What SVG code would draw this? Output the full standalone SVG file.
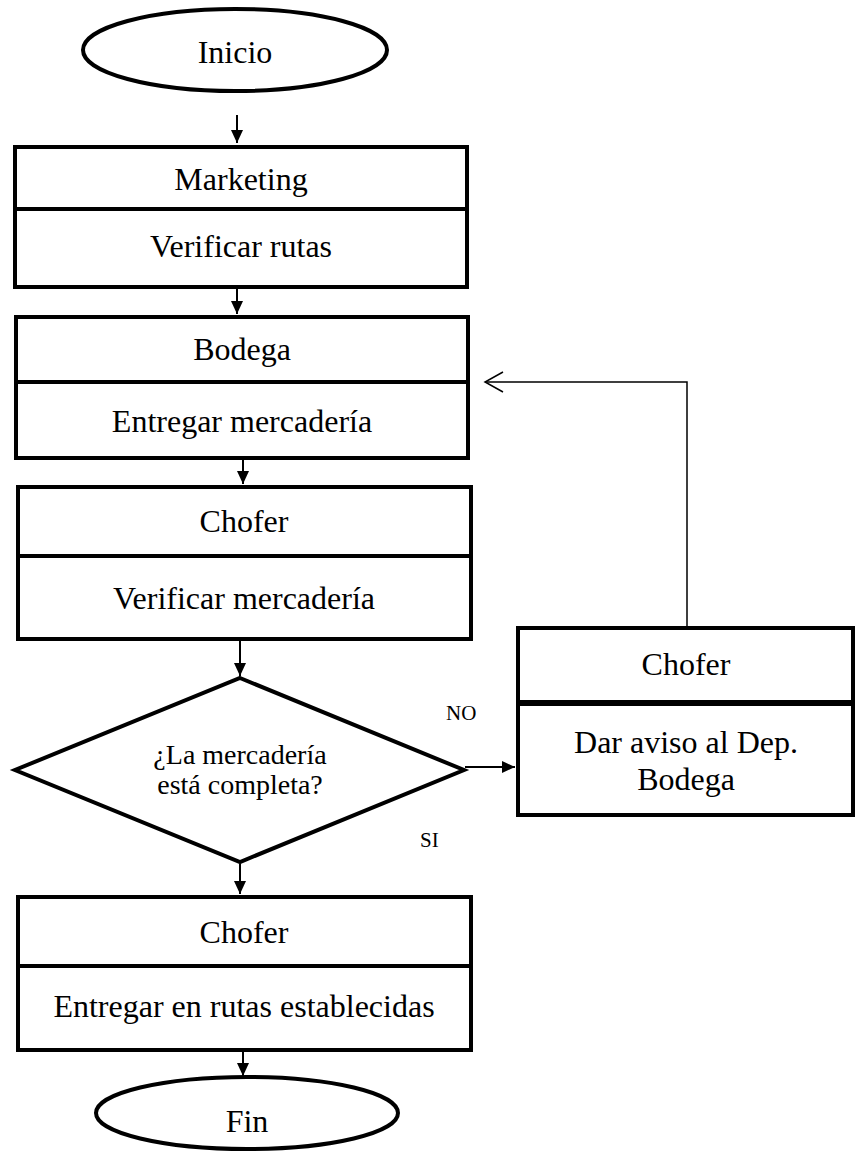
<svg xmlns="http://www.w3.org/2000/svg" width="856" height="1156" viewBox="0 0 856 1156">
  <defs>
    <style>
      .shape { fill: #ffffff; stroke: #000000; stroke-width: 4; stroke-linejoin: miter; }
      .term { fill: #ffffff; stroke: #000000; stroke-width: 4; }
      .conn { fill: none; stroke: #000000; stroke-width: 2; }
      .thin { fill: none; stroke: #000000; stroke-width: 1.5; }
      .t { font-family: "Liberation Serif", "Times New Roman", serif; font-size: 32px; fill: #000000; text-anchor: middle; }
      .q { font-family: "Liberation Serif", "Times New Roman", serif; font-size: 28px; fill: #000000; text-anchor: middle; }
      .lbl { font-family: "Liberation Serif", "Times New Roman", serif; font-size: 21px; fill: #000000; }
    </style>
    <marker id="arrow" markerUnits="userSpaceOnUse" markerWidth="13" markerHeight="13" refX="13" refY="6.5" orient="auto">
      <path d="M0,0.5 L13,6.5 L0,12.5 z" fill="#000000"/>
    </marker>
  </defs>

  <g id="connectors">
    <line class="conn" x1="237" y1="115" x2="237" y2="143" marker-end="url(#arrow)"/>
    <line class="conn" x1="237" y1="289" x2="237" y2="314" marker-end="url(#arrow)"/>
    <line class="conn" x1="243" y1="460" x2="243" y2="484" marker-end="url(#arrow)"/>
    <line class="conn" x1="240" y1="641" x2="240" y2="676" marker-end="url(#arrow)"/>
    <line class="conn" x1="465" y1="767" x2="515" y2="767" marker-end="url(#arrow)"/>
    <line class="conn" x1="240" y1="864" x2="240" y2="894" marker-end="url(#arrow)"/>
    <line class="conn" x1="243" y1="1052" x2="243" y2="1076" marker-end="url(#arrow)"/>
    <polyline class="thin" points="687,626 687,382 485,382"/>
    <polyline class="thin" points="503,372 485,382 503,392"/>
  </g>

  <g id="inicio">
    <ellipse class="term" cx="235" cy="50" rx="152" ry="41"/>
    <text class="t" x="235" y="63">Inicio</text>
  </g>

  <g id="marketing">
    <rect class="shape" x="15" y="147" width="452" height="62"/>
    <rect class="shape" x="15" y="209" width="452" height="78"/>
    <text class="t" x="241" y="190">Marketing</text>
    <text class="t" x="241" y="257">Verificar rutas</text>
  </g>

  <g id="bodega">
    <rect class="shape" x="16" y="317" width="452" height="65"/>
    <rect class="shape" x="16" y="382" width="452" height="76"/>
    <text class="t" x="242" y="360">Bodega</text>
    <text class="t" x="242" y="432">Entregar mercadería</text>
  </g>

  <g id="chofer1">
    <rect class="shape" x="18" y="487" width="453" height="69"/>
    <rect class="shape" x="18" y="556" width="453" height="83"/>
    <text class="t" x="244" y="532">Chofer</text>
    <text class="t" x="244" y="609">Verificar mercadería</text>
  </g>

  <g id="decision">
    <polygon class="shape" points="240,678 464,770 240,862 15,770"/>
    <text class="q" x="240" y="764">¿La mercadería</text>
    <text class="q" x="240" y="794">está completa?</text>
  </g>

  <g id="labels">
    <text class="lbl" x="446" y="720">NO</text>
    <text class="lbl" x="420" y="847">SI</text>
  </g>

  <g id="chofer-aviso">
    <rect class="shape" x="518" y="628" width="335" height="74"/>
    <rect class="shape" x="518" y="704" width="335" height="111"/>
    <text class="t" x="686" y="675">Chofer</text>
    <text class="t" x="686" y="753">Dar aviso al Dep.</text>
    <text class="t" x="686" y="790">Bodega</text>
  </g>

  <g id="chofer2">
    <rect class="shape" x="18" y="897" width="453" height="69"/>
    <rect class="shape" x="18" y="966" width="453" height="84"/>
    <text class="t" x="244" y="943">Chofer</text>
    <text class="t" x="244" y="1017">Entregar en rutas establecidas</text>
  </g>

  <g id="fin">
    <ellipse class="term" cx="247" cy="1113" rx="151" ry="36"/>
    <text class="t" x="247" y="1132">Fin</text>
  </g>
</svg>
